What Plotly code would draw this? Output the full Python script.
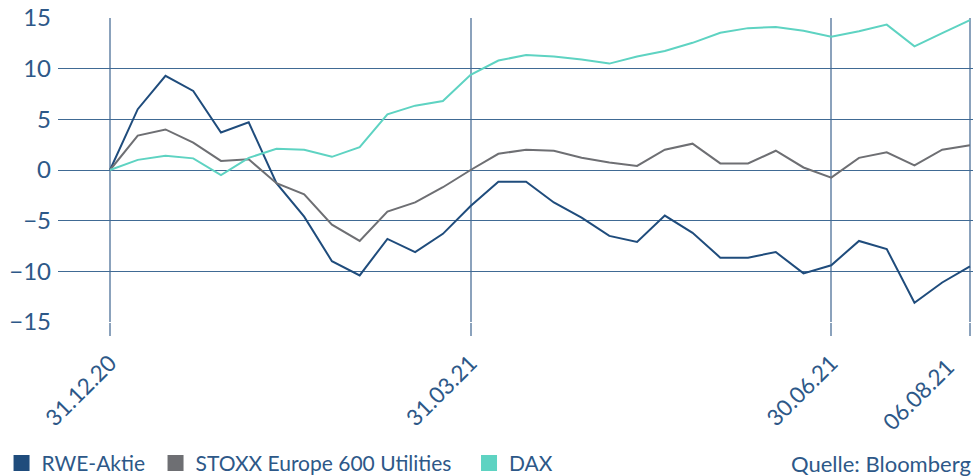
import plotly.graph_objects as go

# weekly observations, 31.12.20 .. 06.08.21 (index positions)
x_index = list(range(32))
x_tick_positions = [0, 13, 26, 31]
x_tick_labels = ["31.12.20", "31.03.21", "30.06.21", "06.08.21"]

rwe = [0, 6.0, 9.3, 7.8, 3.7, 4.7, -1.3, -4.6, -9.0, -10.4, -6.8, -8.1, -6.3,
       -3.55, -1.15, -1.15, -3.2, -4.7, -6.5, -7.1, -4.5, -6.2, -8.65, -8.65,
       -8.1, -10.2, -9.4, -7.0, -7.8, -13.1, -11.1, -9.5]
stoxx = [0, 3.4, 4.0, 2.7, 0.9, 1.05, -1.3, -2.4, -5.4, -7.0, -4.1, -3.2, -1.7,
         0.0, 1.6, 2.0, 1.9, 1.2, 0.75, 0.4, 2.0, 2.6, 0.65, 0.65,
         1.9, 0.25, -0.75, 1.2, 1.75, 0.45, 2.0, 2.45]
dax = [0, 1.0, 1.4, 1.15, -0.5, 1.2, 2.1, 2.0, 1.3, 2.25, 5.5, 6.35, 6.8,
       9.4, 10.8, 11.35, 11.2, 10.9, 10.5, 11.2, 11.75, 12.55, 13.55, 14.0,
       14.1, 13.75, 13.15, 13.7, 14.35, 12.2, 13.5, 14.8]

y_tick_values = [-15, -10, -5, 0, 5, 10, 15]
y_tick_labels = ["\u221215", "\u221210", "\u22125", "0", "5", "10", "15"]

series_names = ["RWE-Aktie", "STOXX Europe 600 Utilities", "DAX"]
series_colors = ["#1f4c7c", "#6e6f73", "#5ed3c2"]
series_values = [rwe, stoxx, dax]
legend_ids = ["legend", "legend2", "legend3"]
legend_x = [-0.0617, 0.1066, 0.4492]

TEXT = "#2d5888"
FONT = "Lato"
LEG_Y = -0.465
TICK_SIZE = 22.5

fig = go.Figure()
for name, color, vals, lid in zip(series_names, series_colors, series_values, legend_ids):
    fig.add_trace(go.Scatter(x=x_index, y=vals, mode="lines", name=name,
                             line=dict(color=color, width=2), showlegend=False))
    fig.add_trace(go.Scatter(x=[None], y=[None], mode="markers", name=name,
                             marker=dict(symbol="square", size=16, color=color),
                             showlegend=True, legend=lid))

legend_common = dict(orientation="h", xanchor="left", y=LEG_Y, yanchor="middle",
                     font=dict(size=21, color=TEXT), bgcolor="rgba(0,0,0,0)",
                     itemclick=False, borderwidth=0)

fig.update_layout(
    width=973, height=476,
    margin=dict(l=58, r=0, t=18, b=154, autoexpand=False),
    paper_bgcolor="white", plot_bgcolor="white",
    font=dict(family=FONT, color=TEXT, size=20),
    legend=dict(x=legend_x[0], **legend_common),
    legend2=dict(x=legend_x[1], **legend_common),
    legend3=dict(x=legend_x[2], **legend_common),
    annotations=[
        dict(text="Quelle: Bloomberg", xref="paper", yref="paper",
             x=1, y=LEG_Y, xanchor="right", yanchor="middle",
             showarrow=False, font=dict(size=22, color=TEXT)),
        # last date label, pulled inside the figure edge like in the original
        dict(text=x_tick_labels[-1], xref="x", yref="paper",
             x=x_tick_positions[-1], xshift=-8, y=-0.095,
             xanchor="right", yanchor="top", textangle=-45,
             showarrow=False, font=dict(size=TICK_SIZE, color=TEXT)),
    ],
)
fig.update_xaxes(range=[-1.875, 31.11], tickvals=x_tick_positions,
                 ticktext=x_tick_labels[:-1] + [""],
                 tickangle=-45, showgrid=True, gridcolor="#8ba2bc", gridwidth=2,
                 ticks="outside", ticklen=13, tickcolor="#8ba2bc", tickwidth=2,
                 ticklabelstandoff=5, ticklabeloverflow="allow", automargin=False,
                 zeroline=False, showline=False, tickfont=dict(size=TICK_SIZE, color=TEXT))
fig.update_yaxes(range=[-15, 15], tickvals=y_tick_values, ticktext=y_tick_labels,
                 showgrid=True, gridcolor="#406a94", gridwidth=1, automargin=False,
                 ticklabelstandoff=6,
                 zeroline=False, showline=False, ticks="", tickfont=dict(size=24, color=TEXT))

fig.write_html("out.html", config={"displayModeBar": False},
               post_script="document.body.style.margin='0';document.body.style.overflow='hidden';")
